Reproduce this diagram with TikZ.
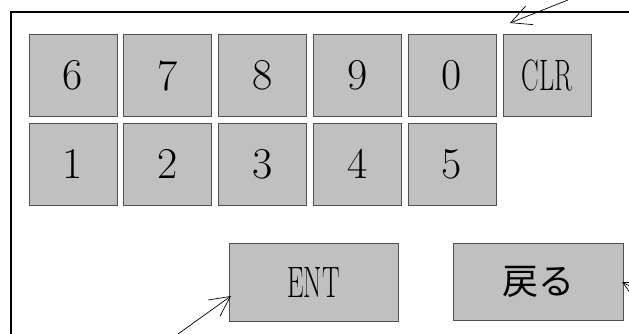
\documentclass[tikz,border=0pt]{standalone}
\usepackage{fontspec}
\usepackage{graphicx}
\newfontfamily\jpfont{Noto Sans CJK JP}
\usetikzlibrary{arrows.meta}
\definecolor{keyfill}{HTML}{C0C0C0}
\definecolor{keyline}{HTML}{505050}
\tikzset{
  key/.style={draw=keyline, line width=0.9pt, fill=keyfill, inner sep=0pt,
    minimum width=88pt, minimum height=82pt, font=\fontsize{44}{48}\selectfont},
  widekey/.style={key, minimum width=170pt, minimum height=78pt},
  frame/.style={line width=1.2pt, draw=black},
  callout/.style={draw=black, line width=0.7pt, -{Straight Barb[length=20pt,width=20pt]}}
}
\newcommand{\narrow}[1]{\scalebox{0.6}[1]{#1}}
\begin{document}
\begin{tikzpicture}[x=1pt,y=-1pt]
\useasboundingbox (0,0) rectangle (629,334);
\draw[frame] (629,12) -- (11,12) -- (11,334);
% row 1
\node[key] (k6) at (73,75.5) {6};
\node[key] (k7) at (167.5,75.5) {7};
\node[key] (k8) at (262.5,75.5) {8};
\node[key] (k9) at (357.5,75.5) {9};
\node[key] (k0) at (452,75.5) {0};
\node[key] (kclr) at (547,75.5) {\narrow{CLR}\hspace{22pt}};
% row 2
\node[key] (k1) at (73,164) {1};
\node[key] (k2) at (167.5,164) {2};
\node[key] (k3) at (262.5,164) {3};
\node[key] (k4) at (357.5,164) {4};
\node[key] (k5) at (452,164) {5};
% bottom keys
\node[widekey, minimum width=169pt] (ent) at (313.5,282) {\narrow{ENT}\hspace{30pt}};
\node[widekey, minimum width=170pt, minimum height=77pt, font=\jpfont\fontsize{36}{40}\selectfont] (back) at (538,281.5) {戻る};
% callout arrows
\coordinate (t0) at (568,0);
\coordinate (t1) at (510,23);
\coordinate (e0) at (178,334);
\coordinate (e1) at (231,296);
\coordinate (r0) at (650,297);
\coordinate (r1) at (622,282);
\draw[callout] (t0) -- (t1);
\draw[callout] (e0) -- (e1);
\draw[callout] (r0) -- (r1);
\end{tikzpicture}
\end{document}
